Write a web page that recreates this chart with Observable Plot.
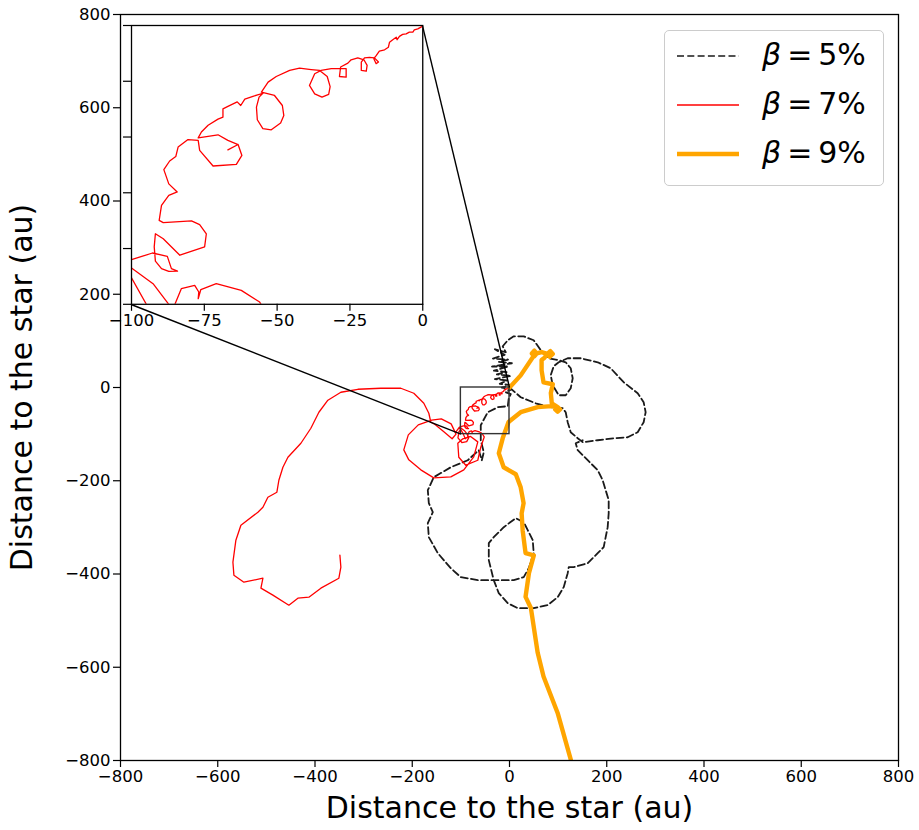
<!DOCTYPE html>
<html><head><meta charset="utf-8">
<script src="https://cdn.jsdelivr.net/npm/d3@7"></script>
<script src="https://cdn.jsdelivr.net/npm/@observablehq/plot@0.6"></script>
<style>
body{margin:0;background:#fff;font-family:"DejaVu Sans",sans-serif;}
#wrap{position:relative;width:919px;height:830px;overflow:hidden;}
#wrap svg{position:absolute;left:0;top:0;}
#legend{position:absolute;border:1px solid #cccccc;border-radius:5px;background:rgba(255,255,255,0.85);}
#legend .lab{position:absolute;font-family:"DejaVu Sans";font-size:30px;line-height:30px;white-space:nowrap;color:#000;}
</style></head><body><div id="wrap"></div>
<script>
// ---------- data (au) ----------
const axisTicks = [-800,-600,-400,-200,0,200,400,600,800];
const insetXTicks = [-100,-75,-50,-25,0];
const insetYTicks = [-100,-80,-60,-40,-20,0];
const zoomBox = {x1:-100, x2:0, y1:-100, y2:0};
const insetBounds = {x1:-778, x2:-179, y1:178, y2:776};
const seriesNames = ["5%","7%","9%"];

// beta = 5% (dashed black)
const beta5 = [
[0,0],[23.1,-20.9],[53.9,-33.8],[84.8,-42.3],[109.4,-44.5],[115.6,-53.0],[119.7,-74.5],[125.9,-95.9],[140.3,-108.8],[150.6,-117.4],
[181.4,-113.1],[214.3,-108.8],[243.0,-106.7],[263.6,-95.9],[275.9,-74.5],[280.0,-53.0],[275.9,-31.6],[263.6,-12.3],[234.8,11.3],
[208.1,41.3],[181.4,54.1],[146.4,62.7],[119.7,62.7],[101.2,54.1],[90.9,45.6],[84.8,26.3],[88.9,4.8],[101.2,-16.6],[115.6,-16.6],
[125.9,-1.6],[130.0,19.8],[125.9,41.3],[115.6,54.1],[101.2,58.4],[80.7,62.7],[64.2,79.8],[60.1,86.3],[49.8,101.3],[29.3,109.8],
[8.7,109.8],[-3.6,101.3],[-13.9,88.4],[-7.7,75.6],[-30,82],[-10,70],[-34,62],[-3,60],[-22,55],[5,52],[-36,45],[-2,45],
[-32,36],[-6,33],[-26,28],[3,25],[-30,18],[-5,15],[-20,8],[2,5],[-16,0],[4,-4],[-8,-10],[2.6,-14],[-1.5,-23.0],[-3.6,-40.2],
[-24.1,-42.3],[-44.7,-53.0],[-59.1,-80.9],[-59.1,-113.1],[-52.9,-138.8],[-57.0,-156.0],[-63.2,-134.5],[-85.8,-156.0],[-120.7,-171.0],
[-155.7,-192.4],[-168.0,-220.3],[-165.9,-248.2],[-157.7,-267.5],[-168.0,-291.0],[-165.9,-321.0],[-147.5,-355.3],[-120.7,-387.5],
[-100.2,-406.8],[-65.2,-413.2],[-24.1,-413.2],[8.7,-413.2],[29.3,-406.8],[39.6,-387.5],[49.8,-355.3],[47.8,-327.5],[37.5,-306.0],
[29.3,-288.9],[12.8,-280.3],[-11.8,-299.6],[-32.4,-321.0],[-42.6,-333.9],[-42.6,-370.3],[-32.4,-413.2],[-22.1,-441.0],[-3.6,-462.5],
[17.0,-473.2],[49.8,-473.2],[78.6,-466.8],[99.2,-449.6],[111.5,-428.2],[119.7,-398.2],[121.8,-385.3],[132.1,-385.3],[160.8,-376.8],
[181.4,-355.3],[193.7,-342.4],[197.8,-321.0],[201.9,-299.6],[204.0,-269.6],[204.0,-241.7],[191.6,-198.9],[181.4,-177.4],
[160.8,-156.0],[140.3,-134.5],[136.2,-119.5],[150.6,-113.1]
];

// beta = 7% (red)
const beta7 = [
[0,0],[-0.3,-0.4],[-1.7,-1.2],[-2.9,-1.6],[-3.4,-2.4],[-4.6,-2.4],[-5.7,-3.0],[-6.9,-3.2],[-8.0,-3.9],[-8.8,-5.1],[-9.1,-4.2],
[-10.3,-5.1],[-11.4,-6.0],[-11.8,-7.8],[-13.1,-8.7],[-14.9,-9.2],[-16.0,-10.8],[-16.8,-11.9],[-16.0,-13.7],[-15.2,-13.1],
[-16.6,-11.6],[-18.3,-11.4],[-20.0,-11.6],[-21.1,-13.1],[-21.1,-16.1],[-19.4,-16.4],[-19.1,-14.3],[-20.2,-12.3],[-22.3,-11.6],
[-24.6,-12.3],[-25.7,-13.5],[-28.2,-14.9],[-28.6,-18.3],[-26.3,-18.5],[-26.3,-15.5],[-28.6,-15.5],[-31.4,-15.5],[-34.9,-16.1],
[-37.1,-17.3],[-38.9,-21.5],[-37.1,-24.5],[-34.6,-25.7],[-32.3,-24.7],[-31.8,-21.9],[-32.8,-18.3],[-35.4,-16.1],[-38.3,-15.8],
[-42.3,-15.3],[-45.7,-16.1],[-50.3,-18.3],[-53.1,-20.3],[-55.4,-23.9],[-50.9,-25.1],[-48.2,-28.7],[-47.7,-32.3],[-48.8,-35.0],
[-52.0,-37.4],[-54.9,-37.0],[-56.8,-33.8],[-57.1,-29.3],[-56.2,-25.7],[-54.9,-24.3],[-58.3,-25.4],[-61.1,-26.4],[-62.5,-28.7],
[-63.7,-27.4],[-66.9,-29.0],[-68.6,-29.9],[-68.6,-32.9],[-70.3,-33.6],[-73.7,-35.8],[-76.0,-38.2],[-77.1,-40.3],[-70.3,-39.2],
[-66.9,-41.2],[-63.4,-42.7],[-66.9,-44.6],[-63.4,-42.7],[-62.9,-44.2],[-62.1,-46.6],[-64.0,-49.8],[-72.0,-50.4],[-76.6,-44.8],
[-77.1,-41.2],[-80.6,-40.9],[-84.0,-43.6],[-84.8,-47.0],[-86.9,-48.6],[-88.9,-51.7],[-87.2,-56.8],[-84.3,-59.7],[-87.2,-60.9],
[-89.7,-64.5],[-90.5,-69.9],[-89.1,-70.7],[-79.4,-70.1],[-76.6,-71.4],[-74.3,-74.7],[-74.9,-79.4],[-83.4,-82.4],[-89.1,-76.5],
[-91.8,-74.7],[-92.2,-79.4],[-91.8,-84.5],[-89.7,-87.2],[-87.2,-88.2],[-84.2,-88.1],[-86.3,-87.2],[-87.7,-82.8],[-92.8,-81.6],
[-100,-84],[-103.4,-85.4],[-110,-95],[-106,-89],[-100,-87],[-92.6,-92.6],[-87.2,-100],[-84,-108],[-88,-116],[-98,-118],
[-106,-108],[-104,-95],[-100,-90.5],[-94.9,-100],[-91,-110],[-86,-106],[-85.1,-100],[-82.9,-94.4],[-78.3,-93.2],[-76.9,-95.6],
[-77.1,-98],[-76.2,-94.7],[-70.9,-92.6],[-62.3,-95.0],[-56,-99.2],[-52,-106],[-59.1,-128.1],[-65.2,-156.0],[-89.9,-166.7],
[-104.3,-149.6],[-106.3,-119.5],[-96,-110],[-80,-105],[-65.2,-116.6],[-73.5,-148.8],[-94.0,-176.6],[-120.7,-191.7],
[-155.7,-193.8],[-182.4,-176.6],[-207.1,-155.2],[-217.4,-133.8],[-208.1,-101.6],[-187.6,-80.2],[-160,-70],[-140.3,-67.3],
[-120,-78],[-110,-100],[-118,-110],[-135,-95],[-155,-78],[-161.8,-74.5],[-165.9,-55.2],[-176.2,-33.8],[-196.8,-12.3],
[-223.5,-1.6],[-264.6,-1.6],[-311.8,-3.8],[-346.8,-10.2],[-373.5,-27.3],[-392,-53.1],[-408.5,-87.4],[-429,-119.6],
[-455.7,-149.6],[-466,-171],[-474.3,-198.9],[-478.4,-224.6],[-496.9,-235.4],[-507.1,-256.8],[-517.4,-267.5],[-552.4,-295.4],
[-562.7,-327.5],[-568.8,-374.7],[-566.8,-402.5],[-546.2,-417.5],[-507.1,-409],[-511.2,-430.4],[-486.6,-445.4],[-453.7,-466.9],
[-435.2,-451.9],[-412.6,-449.7],[-387.9,-430.4],[-350.9,-409],[-346.8,-385.4],[-348.8,-359.5]
];

// beta = 9% (orange)
const beta9 = [
[0,0],[23,26],[50,68],[56,73],[51,79],[46,73],[51,67],[56,73],[66,76],[78,72],[83,66],[89,72],[84,78],[78,72],[72,64],
[66,59],[66,37],[70,11],[89,7],[85,-12],[87,-34],[99,-42],[104,-47],[99,-52],[94,-47],[99,-42],[87,-40],[58,-42],[23,-53],[-2,-74],
[-14,-109],[-22,-141],[-12,-171],[13,-186],[23,-214],[29,-248],[25,-270],[27,-306],[33,-355],[50,-360],[40,-398],[33,-449],
[44,-473],[58,-569],[70,-620],[99,-698],[126,-798],[131,-830]
];

// ---------- drawing ----------
const FONT = "DejaVu Sans";
const wrap = document.getElementById("wrap");
const X = d => d[0], Y = d => d[1];

const connectors = [
  {x1: insetBounds.x2, y1: insetBounds.y2, x2: zoomBox.x2, y2: zoomBox.y2},
  {x1: insetBounds.x1, y1: insetBounds.y1, x2: zoomBox.x1, y2: zoomBox.y1}
];

const main = Plot.plot({
  width: 919, height: 830,
  marginLeft: 120, marginRight: 21, marginTop: 14, marginBottom: 70,
  style: {fontFamily: FONT, fontSize: "16.5px", background: "transparent", color: "#000"},
  x: {domain: [-800, 800], axis: null},
  y: {domain: [-800, 800], axis: null},
  marks: [
    Plot.line(beta5, {x: X, y: Y, stroke: "#1a1a1a", strokeWidth: 1.8, strokeDasharray: "7,3.3", clip: true}),
    Plot.line(beta7, {x: X, y: Y, stroke: "#ff0000", strokeWidth: 1.3, strokeLinejoin: "round", clip: true}),
    Plot.line(beta9, {x: X, y: Y, stroke: "#ffa500", strokeWidth: 4.4, strokeLinejoin: "round", clip: true}),
    Plot.rect([zoomBox], {x1: "x1", x2: "x2", y1: "y1", y2: "y2", fill: "none", stroke: "#333", strokeWidth: 1.4}),
    Plot.link(connectors, {x1: "x1", y1: "y1", x2: "x2", y2: "y2", stroke: "#000", strokeWidth: 1.4}),
    Plot.frame({stroke: "#000", strokeWidth: 1.3}),
    Plot.axisX({ticks: axisTicks, tickSize: 7, tickPadding: 3, fontSize: 16.5, label: null, strokeWidth: 1.2}),
    Plot.axisY({ticks: axisTicks, tickSize: 7, tickPadding: 3, fontSize: 16.5, label: null, strokeWidth: 1.2}),
    Plot.text(["Distance to the star (au)"], {frameAnchor: "bottom", dy: 57, fontSize: 30, text: d => d}),
    Plot.text(["Distance to the star (au)"], {frameAnchor: "left", textAnchor: "middle", dx: -98, rotate: -90, fontSize: 30, text: d => d})
  ]
});
wrap.appendChild(main);

// inset
const sx = main.scale("x"), sy = main.scale("y");
const ix1 = sx.apply(insetBounds.x1), ix2 = sx.apply(insetBounds.x2);
const iyTop = sy.apply(insetBounds.y2), iyBot = sy.apply(insetBounds.y1);
const mL = 14, mR = 16, mT = 4, mB = 36;
const inset = Plot.plot({
  width: (ix2 - ix1) + mL + mR, height: (iyBot - iyTop) + mT + mB,
  marginLeft: mL, marginRight: mR, marginTop: mT, marginBottom: mB,
  style: {fontFamily: FONT, fontSize: "16.5px", background: "transparent", color: "#000", overflow: "visible"},
  x: {domain: [-100, 0], axis: null},
  y: {domain: [-100, 0], axis: null},
  marks: [
    Plot.frame({fill: "white"}),
    Plot.line(beta7, {x: X, y: Y, stroke: "#ff0000", strokeWidth: 1.3, strokeLinejoin: "round", clip: true}),
    Plot.frame({stroke: "#000", strokeWidth: 1.3}),
    Plot.axisX({ticks: insetXTicks, tickSize: 7, tickPadding: 3, fontSize: 16.5, label: null, strokeWidth: 1.2}),
    Plot.axisY({ticks: insetYTicks, tickSize: 8, tickFormat: () => "", label: null, strokeWidth: 1.2})
  ]
});
inset.style.left = (ix1 - mL) + "px";
inset.style.top = (iyTop - mT) + "px";
wrap.appendChild(inset);

// legend
const legendStyles = [
  {stroke: "#1a1a1a", width: 1.6, dash: "7,3.3"},
  {stroke: "#ff0000", width: 1.6, dash: null},
  {stroke: "#ffa500", width: 4.5, dash: null}
];
const leg = document.createElement("div");
leg.id = "legend";
leg.style.left = "664px"; leg.style.top = "30px"; leg.style.width = "218px"; leg.style.height = "154px";
const ns = "http://www.w3.org/2000/svg";
const lsvg = document.createElementNS(ns, "svg");
lsvg.setAttribute("width", "218"); lsvg.setAttribute("height", "154");
lsvg.style.position = "absolute"; lsvg.style.left = "0"; lsvg.style.top = "0";
leg.appendChild(lsvg);
seriesNames.forEach((name, i) => {
  const cy = 25 + i * 49;
  const ln = document.createElementNS(ns, "line");
  ln.setAttribute("x1", 12); ln.setAttribute("x2", 74);
  ln.setAttribute("y1", cy); ln.setAttribute("y2", cy);
  ln.setAttribute("stroke", legendStyles[i].stroke);
  ln.setAttribute("stroke-width", legendStyles[i].width);
  if (legendStyles[i].dash) ln.setAttribute("stroke-dasharray", legendStyles[i].dash);
  lsvg.appendChild(ln);
  const lab = document.createElement("div");
  lab.className = "lab";
  lab.style.left = "97px"; lab.style.top = (cy - 16) + "px";
  lab.innerHTML = "<i>β</i>\u2009=\u2009" + name;
  leg.appendChild(lab);
});
wrap.appendChild(leg);
</script></body></html>
